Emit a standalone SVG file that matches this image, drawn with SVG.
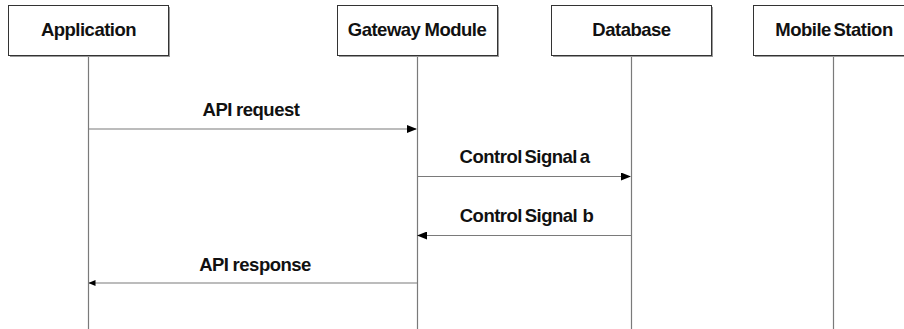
<svg xmlns="http://www.w3.org/2000/svg" width="904" height="329" viewBox="0 0 904 329">
<style>
.box{fill:#fff;stroke:#333;stroke-width:1}
.shadow{fill:#9a9a9a}
.life{stroke:#7a7a7a;stroke-width:1.2;fill:none}
.msg{stroke:#7a7a7a;stroke-width:1.2;fill:none}
.t{font-family:"Liberation Sans",Arial,sans-serif;font-weight:bold;font-size:18.5px;letter-spacing:-0.5px;word-spacing:-0.5px;text-anchor:middle;fill:#111}
.tight{word-spacing:-2px}
</style>
<defs>
<marker id="ah" markerWidth="10" markerHeight="8" refX="9" refY="4" orient="auto" markerUnits="userSpaceOnUse">
<path d="M0,0 L10,4 L0,8 Z" fill="#000"/>
</marker>
<marker id="ahs" markerWidth="7" markerHeight="6" refX="6.5" refY="3" orient="auto" markerUnits="userSpaceOnUse">
<path d="M0,0 L7,3 L0,6 Z" fill="#000"/>
</marker>
</defs>
<g id="lifelines">
<line class="life" x1="88.5" y1="56" x2="88.5" y2="329"/>
<line class="life" x1="417.5" y1="56" x2="417.5" y2="329"/>
<line class="life" x1="631.5" y1="56" x2="631.5" y2="329"/>
<line class="life" x1="833.5" y1="56" x2="833.5" y2="329"/>
</g>
<g id="application">
<rect class="shadow" x="10" y="7" width="160" height="50"/>
<rect class="box" x="8.5" y="5.5" width="160" height="50"/>
<text class="t" x="88.5" y="36">Application</text>
</g>
<g id="gateway">
<rect class="shadow" x="339" y="7" width="160" height="50"/>
<rect class="box" x="337.5" y="5.5" width="160" height="50"/>
<text class="t" x="417" y="36">Gateway Module</text>
</g>
<g id="database">
<rect class="shadow" x="553" y="7" width="160" height="50"/>
<rect class="box" x="551.5" y="5.5" width="160" height="50"/>
<text class="t" x="631.5" y="36">Database</text>
</g>
<g id="mobile">
<rect class="shadow" x="755" y="7" width="160" height="50"/>
<rect class="box" x="753.5" y="5.5" width="160" height="50"/>
<text class="t tight" x="834" y="36">Mobile Station</text>
</g>
<g id="connectors">
<line class="msg" x1="89" y1="129" x2="416" y2="129" marker-end="url(#ah)"/>
<text class="t" x="251" y="116">API request</text>
<line class="msg" x1="418" y1="176.5" x2="630" y2="176.5" marker-end="url(#ah)"/>
<text class="t tight" x="524.5" y="163">Control Signal a</text>
<line class="msg" x1="631" y1="235.5" x2="418" y2="235.5" marker-end="url(#ah)"/>
<text class="t tight" x="526.5" y="222" xml:space="preserve" style="white-space:pre">Control Signal  b</text>
<line class="msg" x1="417" y1="283" x2="89" y2="283" marker-end="url(#ahs)"/>
<text class="t" x="255" y="271">API response</text>
</g>
</svg>
